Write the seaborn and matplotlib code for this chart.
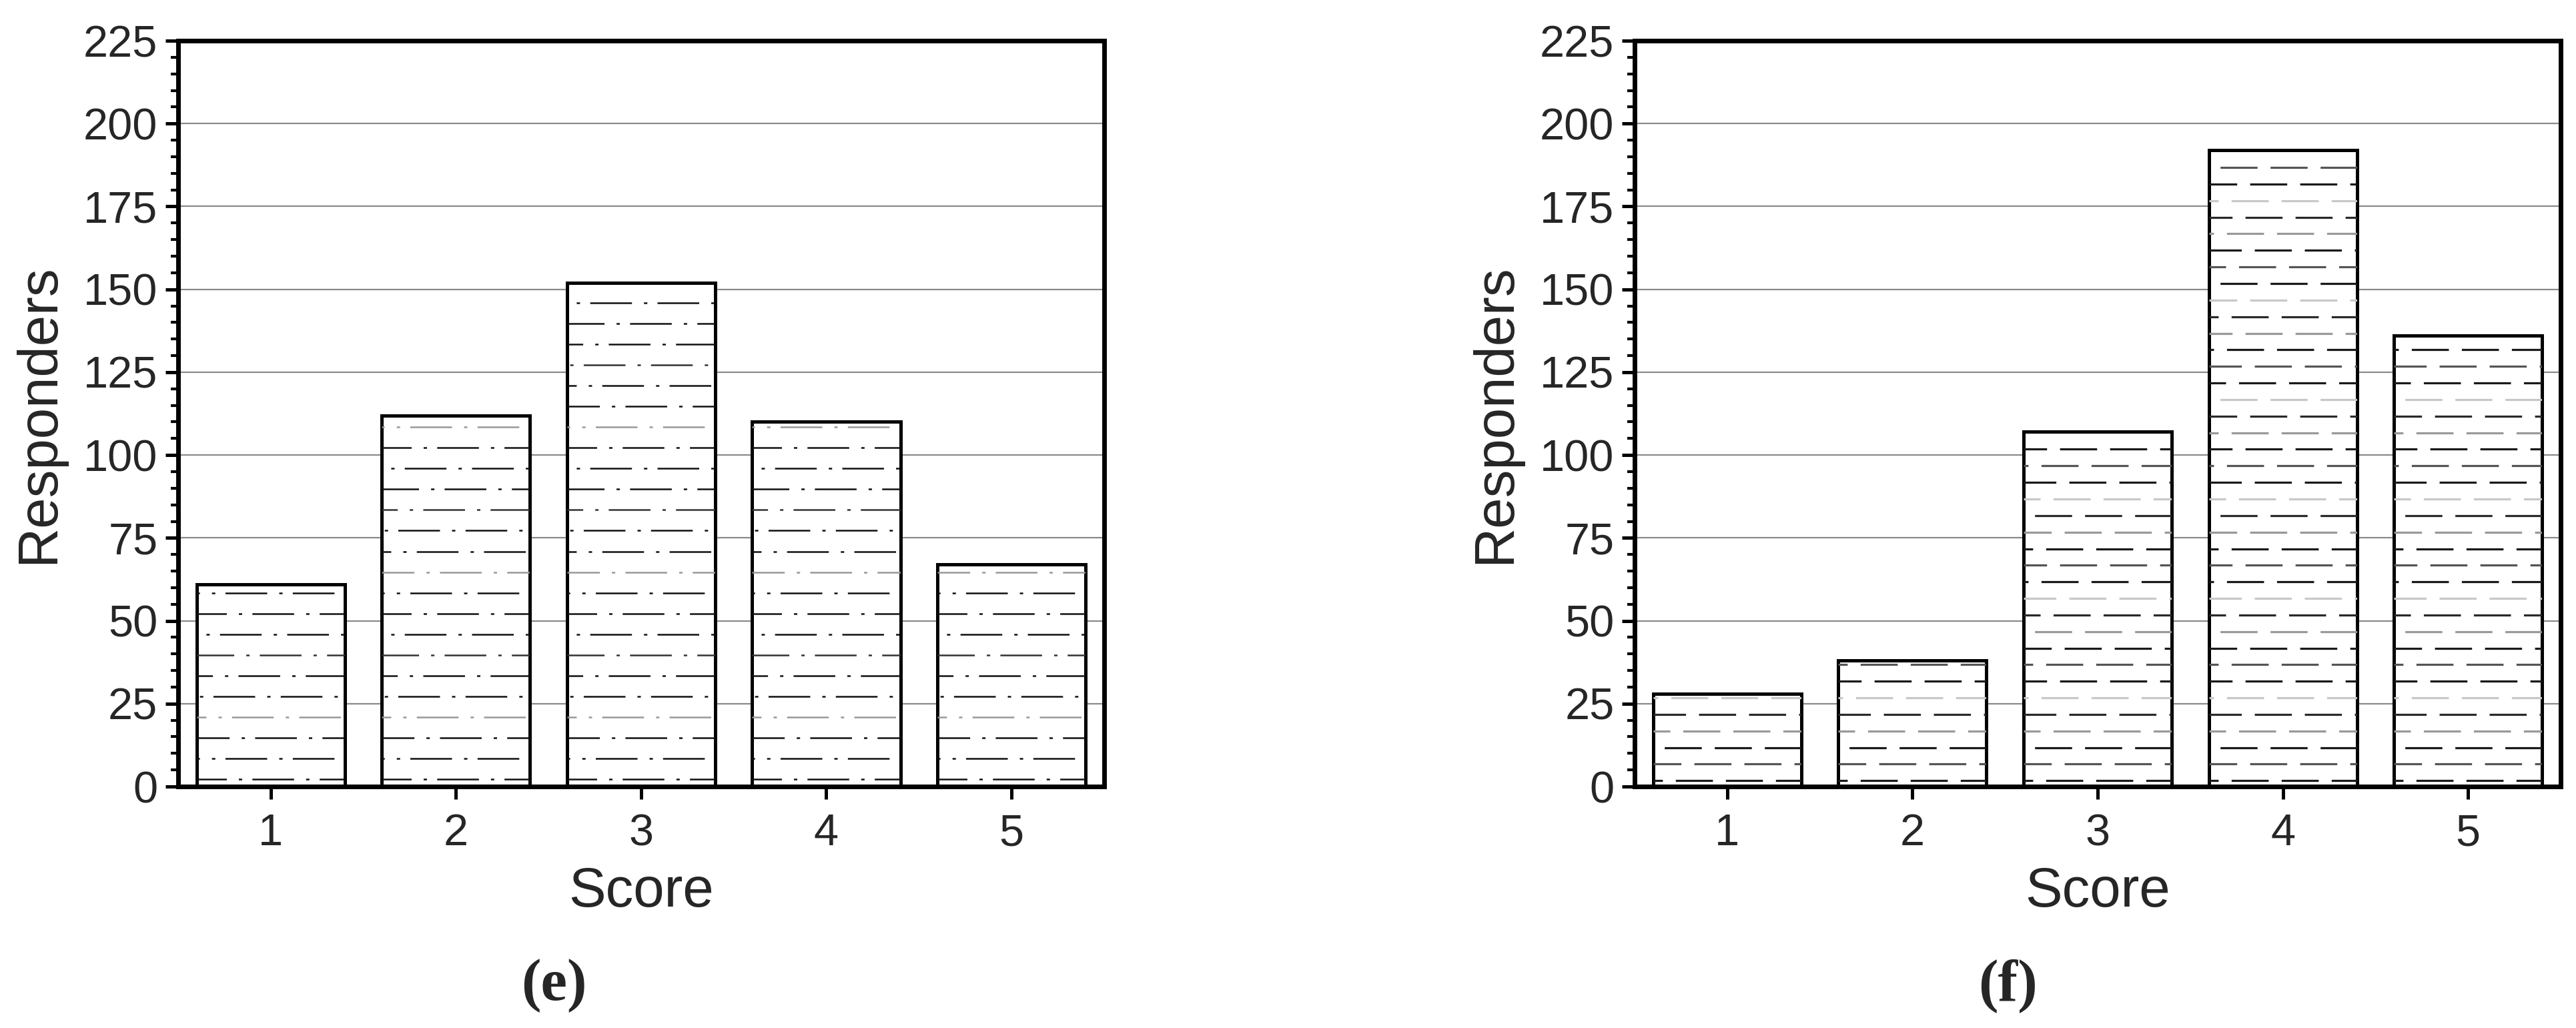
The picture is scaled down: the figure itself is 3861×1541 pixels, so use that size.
import matplotlib
matplotlib.use("Agg")
import matplotlib.pyplot as plt
from matplotlib.ticker import MultipleLocator
import seaborn as sns

sns.set_style("white")
plt.rcParams['font.family'] = ['Liberation Sans', 'DejaVu Sans']
plt.rcParams['lines.scale_dashes'] = False

scores = ["1", "2", "3", "4", "5"]
responders_e = [61, 112, 152, 110, 67]
responders_f = [28, 38, 107, 192, 136]
captions = ["e", "f"]

fig = plt.figure(figsize=(38.62, 15.41), dpi=100)
ax_e = fig.add_axes([0.0691, 0.2349, 0.3594, 0.7255])
ax_f = fig.add_axes([0.6344, 0.2349, 0.3594, 0.7255])


def fill_pattern(ax, step, dashes, offsets, colors, lw):
    # horizontal dashed fill lines clipped to each bar
    for patch in ax.patches:
        x0 = patch.get_x()
        x1 = x0 + patch.get_width()
        h = patch.get_height()
        k = 0
        y = step * 0.35
        while y < h - step * 0.2:
            ln, = ax.plot([x0, x1], [y, y], color=colors[k % len(colors)],
                          lw=lw, solid_capstyle='butt', dash_capstyle='butt',
                          zorder=patch.get_zorder() + 0.1)
            ln.set_linestyle((offsets[k % len(offsets)], dashes))
            ln.set_clip_path(patch)
            k += 1
            y += step


def style_axes(ax, values):
    sns.barplot(x=scores, y=values, ax=ax, color="white", saturation=1,
                edgecolor="black", linewidth=3.6, width=0.8, zorder=3)
    ax.set_xlim(-0.5, 4.5)
    ax.set_ylim(0, 225)
    ax.yaxis.set_major_locator(MultipleLocator(25))
    ax.yaxis.set_minor_locator(MultipleLocator(5))
    ax.set_axisbelow(True)
    ax.grid(axis="y", which="major", color="#8a8a8a", lw=1.6, zorder=0)
    ax.grid(axis="x", visible=False)
    for s in ax.spines.values():
        s.set_visible(True)
        s.set_color("black")
        s.set_linewidth(5)
        s.set_zorder(5)
    ax.tick_params(axis="y", which="major", direction="out", length=14, width=3.6,
                   labelsize=48, pad=8, left=True, right=False, color="black")
    ax.tick_params(axis="y", which="minor", direction="out", length=8, width=3,
                   left=True, right=False, color="black")
    ax.tick_params(axis="x", which="major", direction="out", length=14, width=3.6,
                   labelsize=48, pad=15, bottom=True, top=False, color="black")
    ax.set_xlabel("Score", fontsize=60, labelpad=12)
    ax.set_ylabel("Responders", fontsize=60, labelpad=20)


style_axes(ax_e, responders_e)
style_axes(ax_f, responders_f)

# (e): dash-dot lines, (f): plain dashes
fill_pattern(ax_e, 6.25, (45, 13, 3.6, 11), [13, 42, 10, 35, 55, 28, 5, 48],
             ["#111111", "#111111", "#111111", "#999999", "#111111", "#111111", "#333333"], 1.8)
fill_pattern(ax_f, 5.0, (40, 14), [30, 10, 42, 22, 5, 35, 15],
             ["#1a1a1a", "#555555", "#1a1a1a", "#999999", "#2a2a2a", "#c8c8c8"], 2.3)

fig.text(830 / 3862, 63 / 1541, "(" + captions[0] + ")", ha="center", va="center",
         fontsize=64, fontweight="bold", family=["Liberation Serif", "DejaVu Serif"])
fig.text(3010 / 3862, 63 / 1541, "(" + captions[1] + ")", ha="center", va="center",
         fontsize=64, fontweight="bold", family=["Liberation Serif", "DejaVu Serif"])

fig.savefig("out.png", dpi=100, facecolor="white")
